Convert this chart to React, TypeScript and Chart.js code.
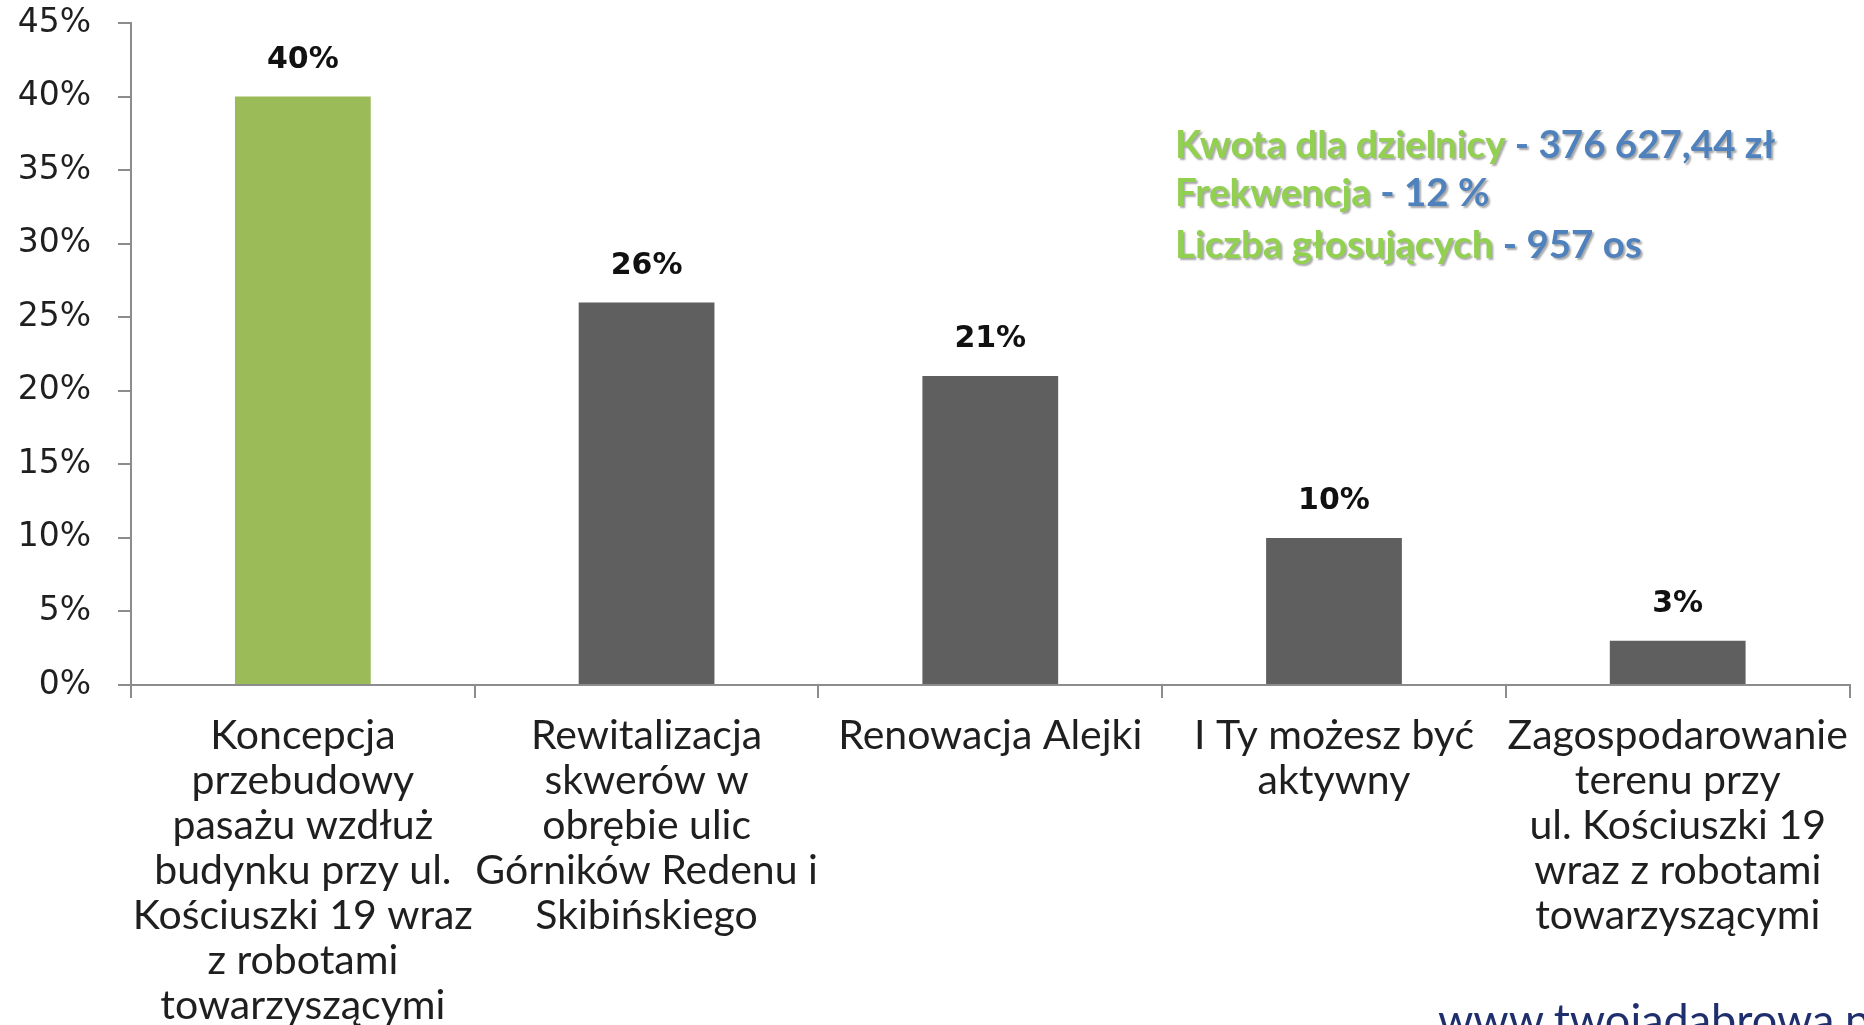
import React, { useEffect, useRef } from "react";
import { Chart, registerables } from "chart.js";

Chart.register(...registerables);

const categories: string[][] = [
  ["Koncepcja", "przebudowy", "pasażu wzdłuż", "budynku przy ul.", "Kościuszki 19 wraz", "z robotami", "towarzyszącymi"],
  ["Rewitalizacja", "skwerów w", "obrębie ulic", "Górników Redenu i", "Skibińskiego"],
  ["Renowacja Alejki"],
  ["I Ty możesz być", "aktywny"],
  ["Zagospodarowanie", "terenu przy", "ul. Kościuszki 19", "wraz z robotami", "towarzyszącymi"],
];
const values: number[] = [40, 26, 21, 10, 3];
const barColors: string[] = ["#9BBB59", "#5F5F5F", "#5F5F5F", "#5F5F5F", "#5F5F5F"];
const yTicks: number[] = [0, 5, 10, 15, 20, 25, 30, 35, 40, 45];

const infoLines: { label: string; value: string }[] = [
  { label: "Kwota dla dzielnicy", value: " - 376 627,44 zł" },
  { label: "Frekwencja", value: " - 12 %" },
  { label: "Liczba głosujących", value: " - 957 os" },
];
const footerUrl = "www.twojadabrowa.pl";

const valueLabelPlugin = {
  id: "valueLabels",
  afterDatasetsDraw(chart: any) {
    const ctx = chart.ctx;
    const meta = chart.getDatasetMeta(0);
    ctx.save();
    ctx.font = "bold 30px 'DejaVu Sans'";
    ctx.fillStyle = "#111";
    ctx.textAlign = "center";
    ctx.textBaseline = "alphabetic";
    meta.data.forEach((bar: any, i: number) => {
      ctx.fillText(values[i] + "%", bar.x, bar.y - 29);
    });
    ctx.restore();
  },
};

const infoPlugin = {
  id: "infoText",
  afterDraw(chart: any) {
    const ctx = chart.ctx;
    ctx.save();
    ctx.font = "bold 38.5px Lato";
    ctx.textAlign = "left";
    ctx.textBaseline = "alphabetic";
    const x0 = 1175;
    const baselines = [158, 206, 258];
    infoLines.forEach((line, i) => {
      const y = baselines[i];
      ctx.shadowColor = "rgba(0,0,0,0.35)";
      ctx.shadowOffsetX = 2;
      ctx.shadowOffsetY = 2;
      ctx.shadowBlur = 2;
      ctx.fillStyle = "#92D050";
      ctx.fillText(line.label, x0, y);
      const w = ctx.measureText(line.label).width;
      ctx.fillStyle = "#4F81BD";
      ctx.fillText(line.value, x0 + w, y);
    });
    ctx.shadowColor = "transparent";
    ctx.shadowOffsetX = 0;
    ctx.shadowOffsetY = 0;
    ctx.shadowBlur = 0;
    ctx.font = "45px Lato";
    ctx.fillStyle = "#1F2F6E";
    ctx.fillText(footerUrl, 1438, 1036);
    ctx.restore();
  },
};

export default function App() {
  const canvasRef = useRef<HTMLCanvasElement | null>(null);

  useEffect(() => {
    document.body.style.margin = "0";
    document.body.style.overflow = "hidden";
    const canvas = canvasRef.current;
    if (!canvas) return;
    const axisColor = "#8C8C8C";
    const chart = new Chart(canvas, {
      type: "bar",
      data: {
        labels: categories,
        datasets: [
          {
            data: values,
            backgroundColor: barColors,
            borderWidth: 0,
            barPercentage: 0.395,
            categoryPercentage: 1,
          },
        ],
      },
      options: {
        animation: false,
        responsive: false,
        maintainAspectRatio: false,
        layout: { padding: { top: 23, right: 12, left: 0, bottom: 0 } },
        plugins: {
          legend: { display: false },
          tooltip: { enabled: false },
        },
        scales: {
          x: {
            grid: {
              offset: true,
              drawOnChartArea: false,
              drawTicks: true,
              tickLength: 13,
              color: axisColor,
              lineWidth: 2,
            },
            border: { color: axisColor, width: 2 },
            ticks: {
              autoSkip: false,
              maxRotation: 0,
              minRotation: 0,
              padding: 15,
              color: "#1f1f1f",
              font: { family: "Lato", size: 41, lineHeight: 45 / 41 },
            },
            afterFit: (scale: any) => {
              scale.height = 1025 - 685;
            },
          },
          y: {
            min: 0,
            max: 45,
            afterBuildTicks: (scale: any) => {
              scale.ticks = yTicks.map((v) => ({ value: v }));
            },
            grid: {
              drawOnChartArea: false,
              drawTicks: true,
              tickLength: 13,
              color: axisColor,
              lineWidth: 2,
            },
            border: { color: axisColor, width: 2 },
            ticks: {
              padding: 27,
              color: "#1f1f1f",
              font: { family: "'DejaVu Sans'", size: 33 },
              callback: (v: any) => v + "%",
            },
            afterFit: (scale: any) => {
              scale.width = 131;
              scale.paddingTop = 0;
              scale.paddingBottom = 0;
            },
          },
        },
      },
      plugins: [valueLabelPlugin, infoPlugin],
    });
    return () => chart.destroy();
  }, []);

  return (
    <div style={{ width: 1864, height: 1025, background: "#fff" }}>
      <canvas ref={canvasRef} width={1864} height={1025} style={{ display: "block" }} />
    </div>
  );
}
